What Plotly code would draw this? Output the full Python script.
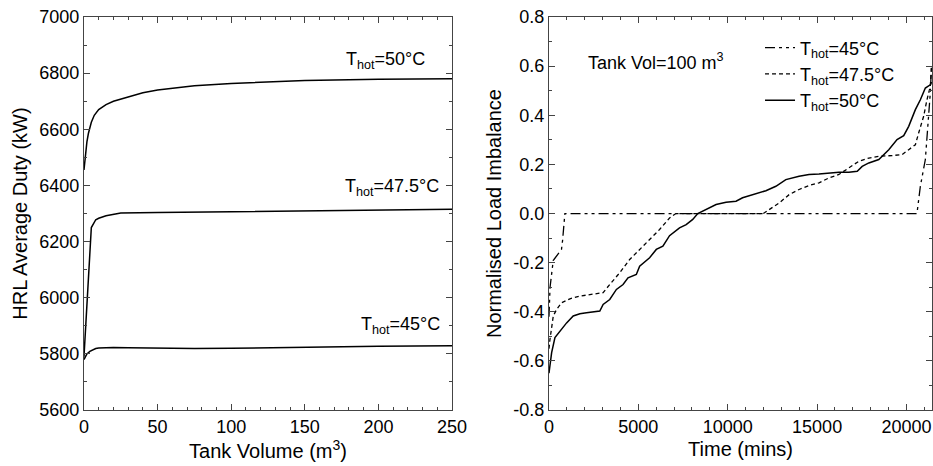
import plotly.graph_objects as go

# ---------------- Left panel data ----------------
vol_50 = [0, 1, 2, 3, 5, 7, 10, 15, 20, 30, 40, 50, 75, 100, 125, 150, 200, 250]
duty_50 = [6455, 6515, 6555, 6585, 6625, 6650, 6670, 6688, 6700, 6715, 6730, 6740, 6755, 6763, 6769, 6774, 6778, 6780]

vol_475 = [0, 5, 8, 10, 15, 20, 25, 50, 100, 150, 200, 250]
duty_475 = [5790, 6250, 6278, 6283, 6292, 6298, 6302, 6304, 6307, 6310, 6313, 6315]

vol_45 = [0, 1, 2, 4, 6, 8, 10, 15, 20, 30, 50, 75, 100, 150, 200, 250]
duty_45 = [5780, 5792, 5800, 5809, 5815, 5819, 5821, 5823, 5823, 5822, 5820, 5819, 5820, 5824, 5827, 5829]

left_yticks = [5600, 5800, 6000, 6200, 6400, 6600, 6800, 7000]
left_xticks = [0, 50, 100, 150, 200, 250]

# ---------------- Right panel data ----------------
t_45 = [0, 60, 240, 280, 700, 760, 890, 20585, 20775, 21054, 21330, 21400]
v_45 = [-0.42, -0.30, -0.19, -0.187, -0.146, -0.11, 0.0, 0.0, 0.111, 0.22, 0.49, 0.60]

t_475 = [0, 56, 241, 427, 706, 1170, 1728, 2471, 3029, 3400, 3958, 4515, 5072, 5630, 6187, 6745,
         7100, 11985, 12876, 13434, 13991, 14548, 15106, 15663, 16221, 16778, 17336, 17893, 18450,
         19193, 19750, 20123, 20496, 20680, 20959, 21144, 21330, 21400]
v_475 = [-0.55, -0.512, -0.417, -0.39, -0.363, -0.347, -0.336, -0.329, -0.322, -0.289, -0.241, -0.187,
         -0.146, -0.106, -0.065, -0.018, 0.0, 0.0, 0.043, 0.077, 0.098, 0.114, 0.125, 0.145, 0.159, 0.186,
         0.213, 0.226, 0.233, 0.236, 0.24, 0.26, 0.28, 0.328, 0.396, 0.463, 0.517, 0.60]

t_50 = [0, 149, 334, 613, 985, 1356, 1728, 2100, 2843, 3029, 3400, 3772, 4144, 4421, 4886, 5072, 5630,
        6003, 6372, 6745, 7302, 7675, 8043, 8322, 8790, 9348, 9905, 10463, 10831, 11388, 12135, 12692,
        13250, 13991, 14548, 15106, 15663, 16221, 16778, 17244, 17521, 17893, 18450, 18636, 19008, 19471,
        19844, 20123, 20496, 20775, 21054, 21330, 21400]
v_50 = [-0.65, -0.566, -0.505, -0.478, -0.445, -0.417, -0.408, -0.404, -0.397, -0.37, -0.35, -0.309,
        -0.289, -0.262, -0.248, -0.214, -0.18, -0.146, -0.133, -0.09, -0.058, -0.045, -0.024, 0.0, 0.016,
        0.037, 0.046, 0.05, 0.064, 0.077, 0.093, 0.111, 0.138, 0.152, 0.159, 0.161, 0.165, 0.168, 0.168,
        0.172, 0.192, 0.206, 0.22, 0.233, 0.26, 0.301, 0.317, 0.355, 0.423, 0.463, 0.511, 0.524, 0.535]

right_yticks = [-0.8, -0.6, -0.4, -0.2, 0.0, 0.2, 0.4, 0.6, 0.8]
right_ytext = ["-0.8", "-0.6", "-0.4", "-0.2", "0.0", "0.2", "0.4", "0.6", "0.8"]
right_xticks = [0, 5000, 10000, 15000, 20000]
right_xtext = ["0", "5000", "10000", "15000", "20000"]

labels = ["T<sub>hot</sub>=45°C", "T<sub>hot</sub>=47.5°C", "T<sub>hot</sub>=50°C"]

FONT = "Liberation Sans, Arial, sans-serif"
AX = "#444444"

fig = go.Figure()

# left panel curves
for xs, ys in [(vol_50, duty_50), (vol_475, duty_475), (vol_45, duty_45)]:
    fig.add_trace(go.Scatter(x=xs, y=ys, mode="lines", line=dict(color="black", width=1.5),
                             showlegend=False, xaxis="x", yaxis="y"))

# right panel curves
fig.add_trace(go.Scatter(x=t_45, y=v_45, mode="lines", name=labels[0],
                         line=dict(color="black", width=1.3, dash="10px,4px,3px,4px,3px,4px"),
                         xaxis="x2", yaxis="y2"))
fig.add_trace(go.Scatter(x=t_475, y=v_475, mode="lines", name=labels[1],
                         line=dict(color="black", width=1.3, dash="4px,3px"),
                         xaxis="x2", yaxis="y2"))
fig.add_trace(go.Scatter(x=t_50, y=v_50, mode="lines", name=labels[2],
                         line=dict(color="black", width=1.5),
                         xaxis="x2", yaxis="y2"))

axis_common = dict(showline=True, linecolor=AX, linewidth=1, mirror="allticks",
                   ticks="inside", ticklen=6, tickcolor=AX, tickwidth=1,
                   showgrid=False, zeroline=False, automargin=False,
                   ticklabeloverflow="allow",
                   tickfont=dict(family=FONT, size=18, color="black"),
                   title_font=dict(family=FONT, size=20, color="black"))

fig.update_layout(
    width=933, height=466,
    margin=dict(l=0, r=0, t=0, b=0, autoexpand=False),
    paper_bgcolor="white", plot_bgcolor="white",
    font=dict(family=FONT, color="black"),
    xaxis=dict(domain=[0.09, 0.4845], range=[0, 250], tickvals=left_xticks,
               minor=dict(dtick=10, ticks="inside", ticklen=3, tickcolor=AX),
               title=dict(text="Tank Volume (m<sup>3</sup>)", standoff=6),
               anchor="y", **axis_common),
    yaxis=dict(domain=[0.12, 0.9635], range=[5600, 7000], tickvals=left_yticks,
               minor=dict(dtick=100, ticks="inside", ticklen=3, tickcolor=AX),
               title=dict(text="HRL Average Duty (kW)", standoff=6),
               anchor="x", **axis_common),
    xaxis2=dict(domain=[0.5884, 0.999], range=[0, 21430], tickvals=right_xticks, ticktext=right_xtext,
                minor=dict(dtick=1000, ticks="inside", ticklen=3, tickcolor=AX),
                title=dict(text="Time (mins)", standoff=6),
                anchor="y2", **axis_common),
    yaxis2=dict(domain=[0.12, 0.9635], range=[-0.8, 0.8], tickvals=right_yticks, ticktext=right_ytext,
                minor=dict(dtick=0.1, ticks="inside", ticklen=3, tickcolor=AX),
                title=dict(text="Normalised Load Imbalance", standoff=6),
                anchor="x2", **axis_common),
    legend=dict(x=0.8146, y=0.937, xanchor="left", yanchor="top",
                bgcolor="rgba(0,0,0,0)", font=dict(family=FONT, size=18),
                itemwidth=30, tracegroupgap=0),
    annotations=[
        dict(text="T<sub>hot</sub>=50°C", x=205, y=6846, xref="x", yref="y", showarrow=False,
             xanchor="center", yanchor="middle", font=dict(family=FONT, size=18)),
        dict(text="T<sub>hot</sub>=47.5°C", x=209, y=6394, xref="x", yref="y", showarrow=False,
             xanchor="center", yanchor="middle", font=dict(family=FONT, size=18)),
        dict(text="T<sub>hot</sub>=45°C", x=215, y=5900, xref="x", yref="y", showarrow=False,
             xanchor="center", yanchor="middle", font=dict(family=FONT, size=18)),
        dict(text="Tank Vol=100 m<sup>3</sup>", x=0.703, y=0.867, xref="paper", yref="paper",
             xanchor="center", yanchor="middle",
             showarrow=False, font=dict(family=FONT, size=18)),
    ],
)

fig.write_html("out.html", config={"displayModeBar": False},
               post_script="document.body.style.margin='0';document.body.style.overflow='hidden';")
